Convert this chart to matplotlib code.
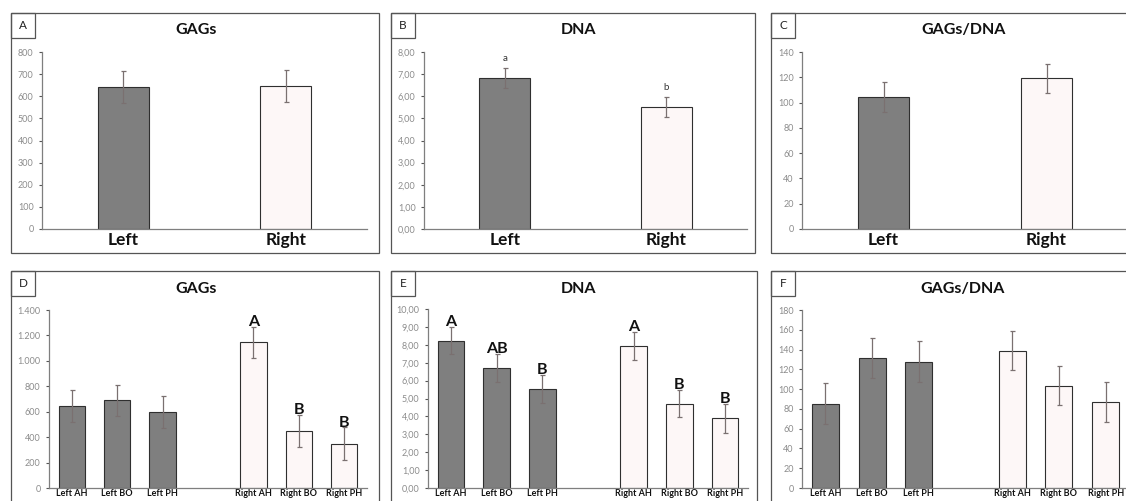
import matplotlib
matplotlib.use("Agg")
import matplotlib.pyplot as plt
from matplotlib.patches import Rectangle

plt.rcParams['font.family'] = ['Lato', 'DejaVu Sans']

W, H = 1126, 501

# ---------------- data ----------------
top_categories = ["Left", "Right"]
gags_top = [641, 647]
gags_top_err = [73, 73]
dna_top = [6.82, 5.51]
dna_top_err = [0.45, 0.45]
dna_top_letters = ["a", "b"]
ratio_top = [104.4, 119.4]
ratio_top_err = [12.0, 11.5]

bottom_categories = ["Left AH", "Left BO", "Left PH", "", "Right AH", "Right BO", "Right PH"]
gags_bot = [645, 690, 595, None, 1145, 450, 350]
gags_bot_err = [126, 124, 127, None, 125, 126, 126]
gags_bot_letters = ["", "", "", "", "A", "B", "B"]
dna_bot = [8.23, 6.70, 5.55, None, 7.95, 4.71, 3.89]
dna_bot_err = [0.77, 0.78, 0.79, None, 0.79, 0.77, 0.79]
dna_bot_letters = ["A", "AB", "B", "", "A", "B", "B"]
ratio_bot = [85.4, 131.7, 127.6, None, 138.8, 103.3, 87.1]
ratio_bot_err = [20.3, 20.3, 20.6, None, 19.8, 19.8, 20.0]

ticks_gags_top = [0, 100, 200, 300, 400, 500, 600, 700, 800]
ticklabels_gags_top = ["0", "100", "200", "300", "400", "500", "600", "700", "800"]
ticks_dna_top = [0, 1, 2, 3, 4, 5, 6, 7, 8]
ticklabels_dna_top = ["0,00", "1,00", "2,00", "3,00", "4,00", "5,00", "6,00", "7,00", "8,00"]
ticks_ratio_top = [0, 20, 40, 60, 80, 100, 120, 140]
ticklabels_ratio_top = ["0", "20", "40", "60", "80", "100", "120", "140"]
ticks_gags_bot = [0, 200, 400, 600, 800, 1000, 1200, 1400]
ticklabels_gags_bot = ["0", "200", "400", "600", "800", "1.000", "1.200", "1.400"]
ticks_dna_bot = [0, 1, 2, 3, 4, 5, 6, 7, 8, 9, 10]
ticklabels_dna_bot = ["0,00", "1,00", "2,00", "3,00", "4,00", "5,00", "6,00", "7,00", "8,00", "9,00", "10,00"]
ticks_ratio_bot = [0, 20, 40, 60, 80, 100, 120, 140, 160, 180]
ticklabels_ratio_bot = ["0", "20", "40", "60", "80", "100", "120", "140", "160", "180"]

# ---------------- style ----------------
DARK = "#7f7f7f"
LIGHT = "#fdf7f7"
EDGE = "#2f2f2f"
ERR = "#7a7070"
AXC = "#7f7f7f"
TICKC = "#8c8c8c"
BORDER = "#555555"

fig = plt.figure(figsize=(W / 100, H / 100), dpi=100)


def frac(x0, y0, x1, y1):
    return [x0 / W, 1 - y1 / H, (x1 - x0) / W, (y1 - y0) / H]


def panel_box(x0, y0, x1, y1, letter, title, tx, ty):
    fig.patches.append(Rectangle((x0 / W, 1 - y1 / H), (x1 - x0) / W, (y1 - y0) / H,
                                 transform=fig.transFigure, fill=False,
                                 edgecolor=BORDER, linewidth=0.9, clip_on=False))
    fig.patches.append(Rectangle((x0 / W, 1 - (y0 + 25) / H), 24 / W, 25 / H,
                                 transform=fig.transFigure, fill=False,
                                 edgecolor=BORDER, linewidth=0.9, clip_on=False))
    fig.text((x0 + 12) / W, 1 - (y0 + 12.5) / H, letter, ha="center", va="center",
             fontsize=8.5, color="#222222")
    fig.text(tx / W, 1 - ty / H, title, ha="center", va="center",
             fontsize=11.5, fontweight="bold", color="#111111")


def style_axes(ax, ticks, ticklabels, ylim, xlabsize, xlabpad):
    ax.set_ylim(*ylim)
    ax.set_yticks(ticks)
    ax.set_yticklabels(ticklabels)
    for s in ["top", "right"]:
        ax.spines[s].set_visible(False)
    for s in ["left", "bottom"]:
        ax.spines[s].set_color(AXC)
        ax.spines[s].set_linewidth(0.9)
    ax.tick_params(axis="y", direction="out", length=2.5, width=0.8, color="#555555",
                   labelsize=6.5, labelcolor=TICKC, pad=3.5)
    ax.tick_params(axis="x", length=0, labelsize=xlabsize, pad=xlabpad)
    for lab in ax.get_xticklabels():
        lab.set_fontweight("bold")
        lab.set_color("#111111")
    ax.patch.set_alpha(0)


def draw_bars(ax, cats, vals, errs, width, colors):
    xs = [i for i, v in enumerate(vals) if v is not None]
    vs = [v for v in vals if v is not None]
    es = [e for e in errs if e is not None]
    cs = [colors[i] for i, v in enumerate(vals) if v is not None]
    ax.bar(xs, vs, width=width, color=cs, edgecolor=EDGE, linewidth=0.8, zorder=2)
    ax.errorbar(xs, vs, yerr=es, fmt="none", ecolor=ERR, elinewidth=0.9,
                capsize=1.8, capthick=0.9, zorder=3)
    ax.set_xticks(range(len(cats)))
    ax.set_xticklabels(cats)
    ax.set_xlim(-0.5, len(cats) - 0.5)
    return xs, vs, es


top_colors = [DARK, LIGHT]
bot_colors = [DARK, DARK, DARK, DARK, LIGHT, LIGHT, LIGHT]

# ---------------- top row ----------------
panel_box(11, 13, 379, 253, "A", "GAGs", 196, 30)
axA = fig.add_axes(frac(42, 52, 367, 229))
draw_bars(axA, top_categories, gags_top, gags_top_err, 0.315, top_colors)
style_axes(axA, ticks_gags_top, ticklabels_gags_top, (0, 800), 12.5, 2.5)

panel_box(391, 13, 755, 253, "B", "DNA", 578, 30)
axB = fig.add_axes(frac(424, 52, 747, 229))
xs, vs, es = draw_bars(axB, top_categories, dna_top, dna_top_err, 0.315, top_colors)
style_axes(axB, ticks_dna_top, ticklabels_dna_top, (0, 8), 12.5, 2.5)
for x, v, e, t in zip(xs, vs, es, dna_top_letters):
    axB.annotate(t, (x, v + e), xytext=(0, 4), textcoords="offset points",
                 ha="center", va="bottom", fontsize=7, color="#333333")

panel_box(771, 13, 1150, 253, "C", "GAGs/DNA", 964, 30)
axC = fig.add_axes(frac(802, 52, 1128, 229))
draw_bars(axC, top_categories, ratio_top, ratio_top_err, 0.315, top_colors)
style_axes(axC, ticks_ratio_top, ticklabels_ratio_top, (0, 140), 12.5, 2.5)

# ---------------- bottom row ----------------
panel_box(11, 271, 379, 510, "D", "GAGs", 196, 289)
axD = fig.add_axes(frac(49, 310, 367, 488))
xs, vs, es = draw_bars(axD, bottom_categories, gags_bot, gags_bot_err, 0.58, bot_colors)
style_axes(axD, ticks_gags_bot, ticklabels_gags_bot, (0, 1400), 6.5, 1)
for x, v, e, t in zip(xs, vs, es, [gags_bot_letters[i] for i in xs]):
    axD.annotate(t, (x, v + e), xytext=(0, -1.5), textcoords="offset points",
                 ha="center", va="bottom", fontsize=11.5, fontweight="bold", color="#111111")

panel_box(391, 271, 757, 510, "E", "DNA", 578, 289)
axE = fig.add_axes(frac(428, 309, 748, 488))
xs, vs, es = draw_bars(axE, bottom_categories, dna_bot, dna_bot_err, 0.58, bot_colors)
style_axes(axE, ticks_dna_bot, ticklabels_dna_bot, (0, 10), 6.5, 1)
for x, v, e, t in zip(xs, vs, es, [dna_bot_letters[i] for i in xs]):
    axE.annotate(t, (x, v + e), xytext=(0, -1.5), textcoords="offset points",
                 ha="center", va="bottom", fontsize=11.5, fontweight="bold", color="#111111")

panel_box(771, 271, 1150, 510, "F", "GAGs/DNA", 963, 289)
axF = fig.add_axes(frac(802, 310, 1129, 488))
draw_bars(axF, bottom_categories, ratio_bot, ratio_bot_err, 0.58, bot_colors)
style_axes(axF, ticks_ratio_bot, ticklabels_ratio_bot, (0, 180), 6.5, 1)

fig.savefig("out.png", dpi=100, facecolor="white")
